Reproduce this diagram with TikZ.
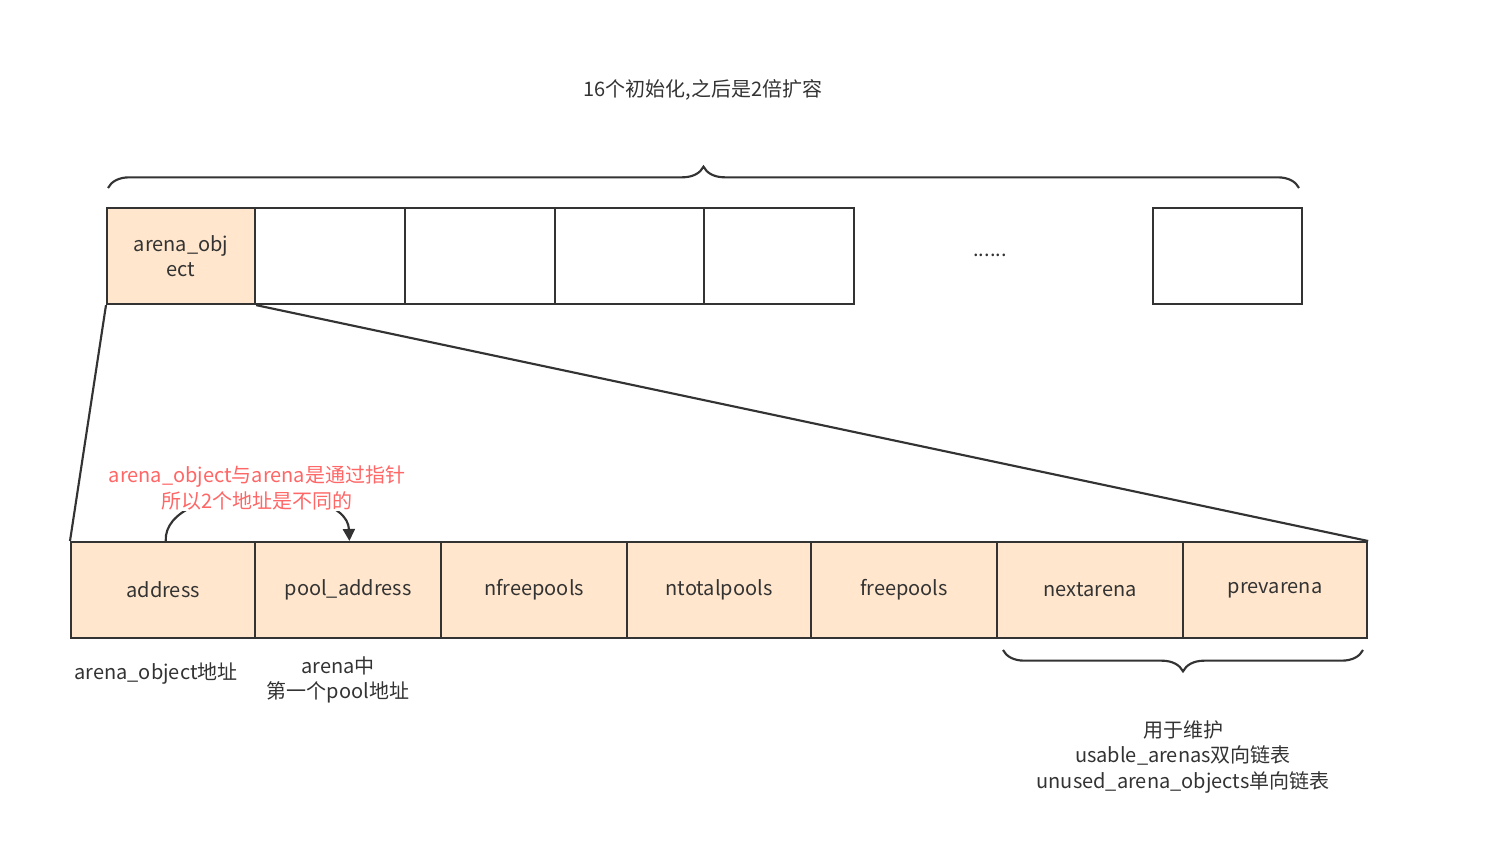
\documentclass[tikz,border=0pt]{standalone}
\usepackage{fontspec}
\setmainfont{Noto Sans CJK SC}
\usetikzlibrary{decorations.pathreplacing,arrows.meta}
\definecolor{peach}{HTML}{FFE6CC}
\definecolor{dk}{HTML}{333333}
\definecolor{rd}{HTML}{FF6666}
\begin{document}
\begin{tikzpicture}[x=0.75pt,y=-0.75pt,
  cell/.style={draw=dk,line width=1.6pt,minimum height=72pt,inner sep=0pt,anchor=north west},
  lbl/.style={font=\fontsize{15}{19}\selectfont,text=dk,align=center},
  br/.style={draw=dk,line width=1.6pt,decorate,decoration={brace,amplitude=16pt}}]
\useasboundingbox (0,0) rectangle (1504,866);
\node[cell,fill=peach,minimum width=111pt,lbl] (t0) at (106,207) {arena\_obj\\ect};
\foreach \i/\a/\b in {1/254/404,2/404/554,3/554/703,4/703/853}
  \node[cell,minimum width={(\b-\a)*0.75pt}] (t\i) at (\a,207) {};
\node[cell,minimum width=111.75pt] (t5) at (1152,207) {};
\node[lbl] (dots) at (990,255) {......};
\draw[br] (108,188) -- coordinate (btop) (1299,188);
\node[lbl] (title) at (703,90) {16个初始化,之后是2倍扩容};
\foreach \n/\a/\b/\t in {b1/70/254/address,b2/254/440/pool\_address,b3/440/626/nfreepools,b4/626/810/ntotalpools,b5/810/996/freepools,b6/996/1182/nextarena,b7/1182/1366/prevarena}
  \node[cell,fill=peach,minimum width={(\b-\a)*0.75pt},lbl] (\n) at (\a,541) {\t};
\draw[dk,line width=1.6pt] (t0.south west) -- (b1.north west);
\draw[dk,line width=1.6pt] (t0.south east) -- (b7.north east);
\draw[dk,line width=1.6pt,-{Triangle[length=9pt,width=9pt]}] ([xshift=2pt]b1.north) .. controls (163,480) and (347,480) .. ([xshift=1pt]b2.north);
\node[lbl,text=rd,fill=white,inner sep=1pt] (note) at (257,488) {arena\_object与arena是通过指针\\所以2个地址是不同的};
\node[lbl] (n1) at (156,674) {arena\_object地址};
\node[lbl] (n2) at (338,680) {arena中\\第一个pool地址};
\draw[br] (1363,650) -- (1003,650);
\node[lbl] (n3) at (1183,757) {用于维护\\usable\_arenas双向链表\\unused\_arena\_objects单向链表};
\end{tikzpicture}
\end{document}
